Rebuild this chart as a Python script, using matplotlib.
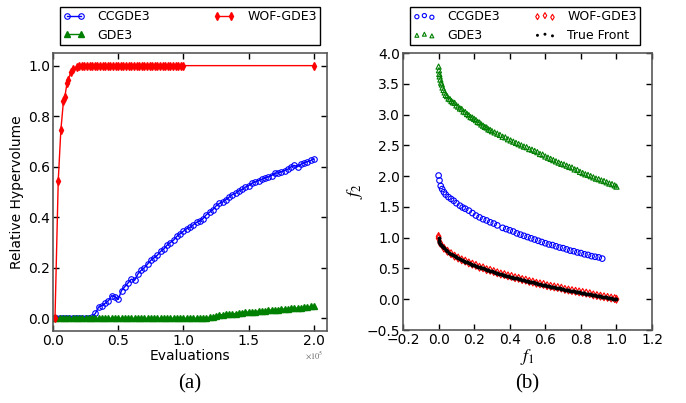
import numpy as np
import matplotlib
matplotlib.use('Agg')
import matplotlib.pyplot as plt
from matplotlib.ticker import FuncFormatter

# (a) relative hypervolume vs evaluations
evals = np.arange(0, 200001, 2500)  # sampling grid for CCGDE3 / GDE3
hv_ccgde3 = [0, 0, 0, 0, 0, 0, 0, 0, 0, 0, 0, 0,
             0.005, 0.02, 0.045, 0.05, 0.06, 0.07, 0.09, 0.085, 0.075, 0.11,
             0.125, 0.14, 0.155, 0.15, 0.175, 0.19, 0.20, 0.215, 0.23, 0.24,
             0.25, 0.265, 0.275, 0.29, 0.30, 0.31, 0.325, 0.335, 0.345, 0.355,
             0.36, 0.37, 0.38, 0.385, 0.395, 0.41, 0.42, 0.43, 0.445, 0.455,
             0.46, 0.47, 0.48, 0.49, 0.495, 0.505, 0.51, 0.52, 0.525, 0.535,
             0.54, 0.545, 0.55, 0.555, 0.56, 0.565, 0.575, 0.575, 0.58, 0.585,
             0.59, 0.60, 0.605, 0.60, 0.61, 0.615, 0.62, 0.625, 0.63]
hv_gde3 = [0, 0, 0, 0, 0, 0, 0, 0, 0, 0, 0, 0, 0, 0, 0, 0,
           0, 0, 0, 0, 0, 0, 0, 0, 0, 0, 0, 0, 0, 0, 0, 0,
           0, 0, 0, 0, 0, 0, 0, 0, 0, 0, 0, 0, 0, 0, 0,
           0.002, 0.005, 0.007, 0.010, 0.013, 0.015, 0.016, 0.017, 0.018,
           0.019, 0.021, 0.023, 0.024, 0.025, 0.026, 0.027, 0.029, 0.030,
           0.031, 0.032, 0.033, 0.034, 0.035, 0.036, 0.037, 0.038, 0.039,
           0.040, 0.041, 0.042, 0.043, 0.044, 0.047, 0.050]
wof_evals = [1500, 4000, 6000, 8000, 9000, 10700, 11700, 13700, 15500, 18000,
             20000, 22000, 24000, 26000, 28000, 30000, 32000, 34000, 36000,
             38000, 40000, 42000, 44000, 46000, 48000, 50000, 52000, 54000,
             56000, 58000, 60000, 62000, 64000, 66000, 68000, 70000, 72000,
             74000, 76000, 78000, 80000, 82000, 84000, 86000, 88000, 90000,
             92000, 94000, 96000, 98000, 100000, 200000]
hv_wof = [0.0, 0.545, 0.745, 0.86, 0.875, 0.93, 0.945, 0.975, 0.985, 0.995,
          0.997, 0.998, 0.999, 1.0, 1.0, 1.0, 1.0, 1.0, 1.0, 1.0, 1.0, 1.0,
          1.0, 1.0, 1.0, 1.0, 1.0, 1.0, 1.0, 1.0, 1.0, 1.0, 1.0, 1.0, 1.0,
          1.0, 1.0, 1.0, 1.0, 1.0, 1.0, 1.0, 1.0, 1.0, 1.0, 1.0, 1.0, 1.0,
          1.0, 1.0, 1.0, 1.0]

# (b) final fronts
cc_f1 = [0.0, 0.005, 0.012, 0.02, 0.03, 0.04, 0.055, 0.07, 0.085, 0.10, 0.12,
         0.135, 0.15, 0.17, 0.19, 0.21, 0.23, 0.25, 0.27, 0.29, 0.31, 0.33,
         0.36, 0.38, 0.40, 0.42, 0.44, 0.46, 0.48, 0.50, 0.52, 0.54, 0.56,
         0.58, 0.60, 0.62, 0.64, 0.66, 0.68, 0.70, 0.72, 0.74, 0.76, 0.78,
         0.80, 0.82, 0.84, 0.86, 0.88, 0.90, 0.92]
cc_f2 = [2.01, 1.93, 1.84, 1.79, 1.74, 1.70, 1.66, 1.63, 1.60, 1.56, 1.52,
         1.49, 1.47, 1.44, 1.40, 1.36, 1.33, 1.30, 1.28, 1.25, 1.23, 1.20,
         1.16, 1.14, 1.12, 1.10, 1.07, 1.05, 1.03, 1.01, 0.99, 0.97, 0.95,
         0.93, 0.91, 0.89, 0.88, 0.86, 0.84, 0.83, 0.81, 0.79, 0.78, 0.76,
         0.75, 0.73, 0.72, 0.70, 0.69, 0.68, 0.66]
gde_f1 = [0.000, 0.002, 0.004, 0.006, 0.010, 0.014, 0.018, 0.022, 0.028,
          0.034, 0.040, 0.048, 0.056, 0.064, 0.072, 0.080, 0.090, 0.100,
          0.110, 0.120, 0.130, 0.140, 0.150, 0.160, 0.170, 0.180, 0.190,
          0.200, 0.210, 0.220, 0.230, 0.240, 0.250, 0.260, 0.270, 0.280,
          0.290, 0.300, 0.315, 0.330, 0.345, 0.360, 0.375, 0.390, 0.405,
          0.420, 0.435, 0.450, 0.465, 0.480, 0.495, 0.510, 0.525, 0.540,
          0.555, 0.570, 0.585, 0.600, 0.615, 0.630, 0.645, 0.660, 0.675,
          0.690, 0.705, 0.720, 0.735, 0.750, 0.765, 0.780, 0.795, 0.810,
          0.825, 0.840, 0.855, 0.870, 0.885, 0.900, 0.915, 0.930, 0.945,
          0.960, 0.975, 0.990, 1.000]
gde_f2 = [3.78, 3.72, 3.66, 3.62, 3.57, 3.52, 3.49, 3.44, 3.40, 3.36, 3.32,
          3.30, 3.26, 3.25, 3.22, 3.20, 3.19, 3.15, 3.13, 3.10, 3.09, 3.05,
          3.04, 3.01, 2.99, 2.96, 2.95, 2.93, 2.91, 2.88, 2.87, 2.84, 2.82,
          2.80, 2.79, 2.76, 2.75, 2.73, 2.71, 2.69, 2.67, 2.64, 2.63, 2.60,
          2.58, 2.56, 2.54, 2.52, 2.50, 2.48, 2.47, 2.44, 2.43, 2.41, 2.39,
          2.36, 2.35, 2.32, 2.30, 2.28, 2.26, 2.24, 2.22, 2.20, 2.19, 2.17,
          2.15, 2.14, 2.11, 2.10, 2.07, 2.05, 2.03, 2.02, 2.00, 1.98, 1.96,
          1.95, 1.93, 1.92, 1.90, 1.88, 1.87, 1.85, 1.83]
wof_f1 = [0.0, 0.0, 0.01, 0.03, 0.05, 0.07, 0.09, 0.11, 0.13, 0.15, 0.17,
          0.19, 0.21, 0.23, 0.25, 0.27, 0.29, 0.31, 0.33, 0.35, 0.37, 0.39,
          0.41, 0.43, 0.45, 0.47, 0.49, 0.51, 0.53, 0.55, 0.57, 0.59, 0.61,
          0.63, 0.65, 0.67, 0.69, 0.71, 0.73, 0.75, 0.77, 0.79, 0.81, 0.83,
          0.85, 0.87, 0.89, 0.91, 0.93, 0.95, 0.97, 0.99, 1.0]
wof_f2 = [1.02, 0.99, 0.91, 0.83, 0.78, 0.74, 0.70, 0.67, 0.64, 0.62, 0.59,
          0.57, 0.55, 0.52, 0.51, 0.48, 0.47, 0.45, 0.43, 0.41, 0.40, 0.38,
          0.37, 0.35, 0.34, 0.32, 0.31, 0.29, 0.28, 0.26, 0.25, 0.24, 0.22,
          0.21, 0.20, 0.19, 0.18, 0.16, 0.15, 0.14, 0.13, 0.12, 0.11, 0.10,
          0.09, 0.07, 0.06, 0.05, 0.04, 0.03, 0.02, 0.01, 0.0]
tf_f1 = [0.0, 0.003, 0.005, 0.01, 0.015, 0.02, 0.025, 0.03, 0.04, 0.05, 0.06,
         0.07, 0.08, 0.09, 0.10, 0.11, 0.12, 0.13, 0.14, 0.15, 0.16, 0.17,
         0.18, 0.19, 0.20, 0.21, 0.22, 0.23, 0.24, 0.25, 0.26, 0.27, 0.28,
         0.29, 0.30, 0.31, 0.32, 0.33, 0.34, 0.35, 0.36, 0.37, 0.38, 0.39,
         0.40, 0.41, 0.42, 0.43, 0.44, 0.45, 0.46, 0.47, 0.48, 0.49, 0.50,
         0.51, 0.52, 0.53, 0.54, 0.55, 0.56, 0.57, 0.58, 0.59, 0.60, 0.61,
         0.62, 0.63, 0.64, 0.65, 0.66, 0.67, 0.68, 0.69, 0.70, 0.71, 0.72,
         0.73, 0.74, 0.75, 0.76, 0.77, 0.78, 0.79, 0.80, 0.81, 0.82, 0.83,
         0.84, 0.85, 0.86, 0.87, 0.88, 0.89, 0.90, 0.91, 0.92, 0.93, 0.94,
         0.95, 0.96, 0.97, 0.98, 0.99, 1.00]
tf_f2 = [1.0, 0.945, 0.929, 0.900, 0.878, 0.859, 0.842, 0.827, 0.800, 0.776,
         0.755, 0.735, 0.717, 0.700, 0.684, 0.668, 0.654, 0.639, 0.626, 0.613,
         0.600, 0.588, 0.576, 0.564, 0.553, 0.542, 0.531, 0.520, 0.510, 0.500,
         0.490, 0.480, 0.471, 0.461, 0.452, 0.443, 0.434, 0.426, 0.417, 0.408,
         0.400, 0.392, 0.384, 0.376, 0.368, 0.360, 0.352, 0.344, 0.337, 0.329,
         0.322, 0.314, 0.307, 0.300, 0.293, 0.286, 0.279, 0.272, 0.265, 0.258,
         0.252, 0.245, 0.238, 0.232, 0.225, 0.219, 0.213, 0.206, 0.200, 0.194,
         0.188, 0.181, 0.175, 0.169, 0.163, 0.157, 0.151, 0.146, 0.140, 0.134,
         0.128, 0.122, 0.117, 0.111, 0.106, 0.100, 0.094, 0.089, 0.083, 0.078,
         0.073, 0.067, 0.062, 0.057, 0.051, 0.046, 0.041, 0.036, 0.030, 0.025,
         0.020, 0.015, 0.010, 0.005, 0.000]

plt.rcParams['mathtext.fontset'] = 'stix'
plt.rcParams['font.size'] = 10

fig = plt.figure(figsize=(6.86, 4.03), dpi=100)
ax1 = fig.add_axes([0.0773, 0.1787, 0.3994, 0.6898])
ax2 = fig.add_axes([0.5875, 0.1811, 0.363, 0.6873])

ax1.plot(evals, hv_ccgde3, color='b', marker='o', ms=4, mfc='none', mec='b',
         mew=0.8, lw=1, label='CCGDE3')
ax1.plot(evals, hv_gde3, color='g', marker='^', ms=4, mec='g', lw=1,
         label='GDE3')
ax1.plot(wof_evals, hv_wof, color='r', marker='d', ms=4, mec='r', lw=1,
         label='WOF-GDE3')
ax1.set_xlim(0, 210000)
ax1.set_ylim(-0.05, 1.05)
ax1.set_xticks([0, 50000, 100000, 150000, 200000])
ax1.set_yticks([0.0, 0.2, 0.4, 0.6, 0.8, 1.0])
ax1.xaxis.set_major_formatter(FuncFormatter(lambda v, p: '%.1f' % (v / 1e5)))
ax1.text(0.955, -0.065, r'$\times10^5$', transform=ax1.transAxes, fontsize=6,
         color='0.4', ha='center', va='top')
ax1.set_xlabel('Evaluations', labelpad=1)
ax1.set_ylabel('Relative Hypervolume', labelpad=3)
ax1.legend(loc='lower left', bbox_to_anchor=(0.026, 1.03, 0.948, 0.14),
           mode='expand', ncol=2, numpoints=2, fancybox=False,
           edgecolor='k', fontsize=9, borderpad=0.25, labelspacing=0.45,
           handlelength=1.7, handletextpad=1.0, framealpha=1, borderaxespad=0)

ax2.scatter(cc_f1, cc_f2, s=16, facecolors='none', edgecolors='b',
            linewidths=0.8, label='CCGDE3')
ax2.scatter(gde_f1, gde_f2, s=14, marker='^', facecolors='none',
            edgecolors='g', linewidths=0.8, label='GDE3')
ax2.scatter(wof_f1, wof_f2, s=16, marker='d', facecolors='none',
            edgecolors='r', linewidths=0.8, label='WOF-GDE3')
ax2.scatter(tf_f1, tf_f2, s=8, marker='o', color='k', linewidths=0,
            label='True Front')
ax2.set_xlim(-0.2, 1.2)
ax2.set_ylim(-0.5, 4.0)
ax2.set_xticks(np.arange(-0.2, 1.21, 0.2))
ax2.set_yticks(np.arange(-0.5, 4.01, 0.5))
ax2.set_xlabel('$f_1$', fontsize=13, labelpad=0)
ax2.set_ylabel('$f_2$', fontsize=13, labelpad=1)
ax2.legend(loc='lower left', bbox_to_anchor=(0.028, 1.03, 0.924, 0.14),
           mode='expand', ncol=2, scatterpoints=3, fancybox=False,
           edgecolor='k', fontsize=9, borderpad=0.25, labelspacing=0.45,
           handlelength=1.8, handletextpad=0.9, framealpha=1, borderaxespad=0,
           markerscale=0.75)

for ax in (ax1, ax2):
    ax.tick_params(direction='in', top=True, right=True, length=4, width=1,
                   pad=2)
    for sp in ax.spines.values():
        sp.set_color('0.35')
        sp.set_linewidth(1.2)

fig.text(0.277, 0.048, '(a)', family='Liberation Serif', fontsize=15,
         ha='center', va='center')
fig.text(0.768, 0.048, '(b)', family='Liberation Serif', fontsize=15,
         ha='center', va='center')

fig.savefig('out.png', dpi=100)
